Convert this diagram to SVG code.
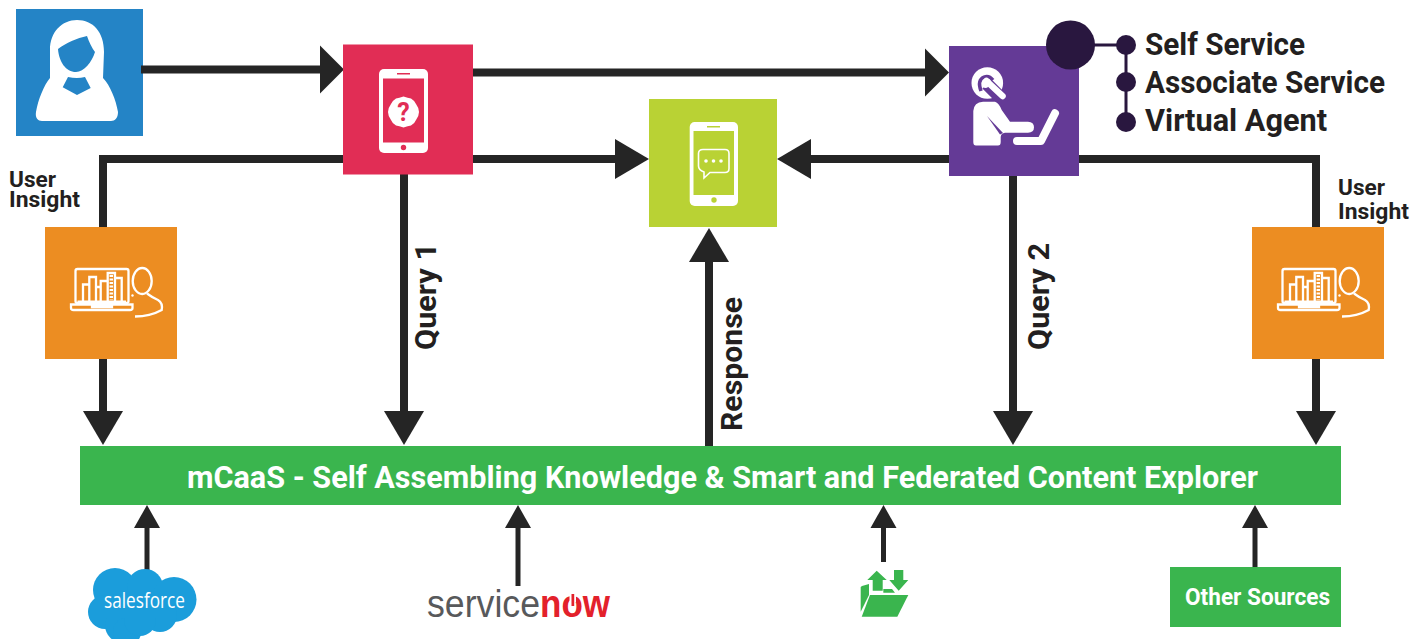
<svg xmlns="http://www.w3.org/2000/svg" xmlns:xlink="http://www.w3.org/1999/xlink" width="1426" height="639" viewBox="0 0 1426 639">
<style>
text{font-family:"Roboto","Liberation Sans",sans-serif;font-weight:700;fill:#231f20}
.w{fill:#fff}
.c{fill:none;stroke:#252525;stroke-width:8}
.s{fill:none;stroke:#252525;stroke-width:5}
.ol{fill:none;stroke:#fff;stroke-width:2.300}
.h{font-size:31px}
.u{font-size:22px}
.r{font-size:29px}
</style>
<defs>
<marker id="a1" markerUnits="userSpaceOnUse" markerWidth="24" markerHeight="48" viewBox="0 0 24 48" refX="0" refY="24" orient="auto" overflow="visible"><path d="M0 0L24 24L0 48Z" fill="#252525"/></marker>
<marker id="a2" markerUnits="userSpaceOnUse" markerWidth="34" markerHeight="40" viewBox="0 0 34 40" refX="0" refY="20" orient="auto" overflow="visible"><path d="M0 0L34 20L0 40Z" fill="#252525"/></marker>
<marker id="a3" markerUnits="userSpaceOnUse" markerWidth="23" markerHeight="26" viewBox="0 0 23 26" refX="0" refY="13" orient="auto" overflow="visible"><path d="M0 0L23 13L0 26Z" fill="#252525"/></marker>
<g id="insight">
<rect class="ol" x="75.500" y="269" width="53" height="34" rx="2"/>
<path class="ol" d="M71 304.500H132.500V308Q132.500 310 130 310H73.500Q71 310 71 308ZM92 304.500V307H112V304.500M77.500 301.700H126"/>
<path class="ol" d="M83 301V284.500H89.300M89.300 301V277H96V301M96 301V287H100.700M100.700 301V281H107.700M107.700 301V273H115V301M115 301V278H121.700V301"/>
<path d="M111.300 275V300" fill="none" stroke="#fff" stroke-width="3.500" stroke-dasharray="2 1.500"/>
<ellipse class="ol" cx="142.200" cy="281" rx="9.500" ry="13"/>
<path class="ol" d="M147 293.500Q153 298 158 300Q163 303 161.700 310Q150 316.500 135 316.500"/>
<circle cx="132.500" cy="295.500" r="1.200" fill="#fff"/>
</g>
</defs>
<g id="user">
<rect x="16" y="9" width="127" height="127" fill="#2484c6"/>
<path class="w" d="M50 78L50 50C50 32 62 20 77 20C93 20 104 32 104 52L103 78C110 85 116 100 118 112C118 118 115 121 111 121L42 121C38 121 35 118 36 112C38 100 44 85 50 78Z"/>
<path d="M58 49C66 43 77 38 87 36C89 42 92 48 95 52C92 62 84 72 76 72C66 72 59 62 58 49Z" fill="#2484c6"/>
<path d="M62.700 87.300L68 77Q77 79 85 77L90.700 88L77 95Z" fill="#2484c6"/>
</g>
<g id="connectors">
<path class="c" d="M141 69.500H320" marker-end="url(#a1)"/>
<path class="c" d="M472 72.500H925" marker-end="url(#a1)"/>
<path class="c" d="M473 159H615" marker-end="url(#a2)"/>
<path class="c" d="M949 159H811" marker-end="url(#a2)"/>
<path class="c" d="M343 159H103V227"/>
<path class="c" d="M1079 159H1316V227"/>
<path class="c" d="M103 359V411" marker-end="url(#a2)"/>
<path class="c" d="M404 174V411" marker-end="url(#a2)"/>
<path class="c" d="M709 446V262" marker-end="url(#a2)"/>
<path class="c" d="M1013 176V411" marker-end="url(#a2)"/>
<path class="c" d="M1316 359V411" marker-end="url(#a2)"/>
<path class="s" d="M147 575V528" marker-end="url(#a3)"/>
<path class="s" d="M518 586V528" marker-end="url(#a3)"/>
<path class="s" d="M883.500 562V528" marker-end="url(#a3)"/>
<path class="s" d="M1255 567V528" marker-end="url(#a3)"/>
<path d="M1070 45H1126V122" fill="none" stroke="#29173f" stroke-width="3"/>
</g>
<g id="question">
<rect x="343" y="44.500" width="130" height="130" fill="#e12d55"/>
<rect class="w" x="379" y="69" width="49" height="84" rx="5"/>
<rect x="383" y="78.500" width="41" height="64" fill="#e12d55"/>
<rect x="397" y="73" width="13" height="1.500" fill="#e12d55"/>
<circle cx="403.500" cy="147.500" r="2.700" fill="#e12d55"/>
<path class="w" d="M403.500 96.500Q408 98 411 98.500Q415 101 416 104Q419 108 419 112Q419 116 416 120Q415 123 411 125.500Q408 126 403.500 127.500Q399 126 396 125.500Q392 123 391 120Q388 116 388 112Q388 108 391 104Q392 101 396 98.500Q399 98 403.500 96.500Z"/>
<text x="403.500" y="121" text-anchor="middle" style="font-size:25px;fill:#e12d55">?</text>
</g>
<g id="chat">
<rect x="649" y="99" width="128" height="128" fill="#b9d234"/>
<rect class="w" x="689.700" y="122" width="48.300" height="84" rx="5"/>
<rect x="693.500" y="131" width="40.500" height="64" fill="#b9d234"/>
<rect x="707" y="126" width="13" height="1.500" fill="#b9d234"/>
<circle cx="714" cy="200" r="2.700" fill="#b9d234"/>
<path d="M703 149.500H725Q729 149.500 729 153.500V168.500Q729 172.500 725 172.500H710L704 178V172Q698.500 170 698.500 166V153.500Q698.500 149.500 703 149.500Z" fill="none" stroke="#fff" stroke-width="1.600"/>
<circle class="w" cx="706" cy="161" r="1.800"/><circle class="w" cx="713.500" cy="161" r="1.800"/><circle class="w" cx="721" cy="161" r="1.800"/>
</g>
<g id="agent">
<rect x="949" y="46" width="130" height="130" fill="#643a96"/>
<circle class="w" cx="987.300" cy="83" r="15.800"/>
<path d="M987 84L1006 103" fill="none" stroke="#643a96" stroke-width="13"/>
<path d="M981 91Q977 80 984 77Q989 75 993 80" fill="none" stroke="#643a96" stroke-width="3.500"/>
<circle class="w" cx="985.500" cy="85" r="3"/>
<path d="M986.500 81L1002.500 96" fill="none" stroke="#fff" stroke-width="6.500" stroke-linecap="round"/>
<path class="w" d="M973.300 111Q974 102 983 101.700H995Q999 103 1001.700 110L1010 121.700H1028Q1034 122 1034 127.200Q1034 132.500 1028 132.700H1005Q1001 133 1000.700 137V142Q1000.700 145.500 998 145.500H976Q973.300 145.500 973.300 142Z"/>
<path d="M987 116L1003 133L1000 134.500Z" fill="#643a96"/>
<path d="M1017 141H1041L1055 113.300" fill="none" stroke="#fff" stroke-width="8" stroke-linecap="round" stroke-linejoin="round"/>
</g>
<g id="channels">
<circle cx="1070.500" cy="45" r="24.500" fill="#29173f"/>
<circle cx="1126" cy="45" r="10" fill="#29173f"/>
<circle cx="1126" cy="82" r="10" fill="#29173f"/>
<circle cx="1126" cy="122" r="10" fill="#29173f"/>
<text class="h" x="1145" y="55" textLength="160" lengthAdjust="spacingAndGlyphs">Self Service</text>
<text class="h" x="1145" y="93" textLength="240" lengthAdjust="spacingAndGlyphs">Associate Service</text>
<text class="h" x="1145" y="131" textLength="182" lengthAdjust="spacingAndGlyphs">Virtual Agent</text>
</g>
<g id="insight-left">
<rect x="45" y="227" width="132" height="132" fill="#ec8d22"/>
<use href="#insight" xlink:href="#insight"/>
<text class="u" x="9" y="187" textLength="47" lengthAdjust="spacingAndGlyphs">User</text>
<text class="u" x="9" y="207" textLength="71" lengthAdjust="spacingAndGlyphs">Insight</text>
</g>
<g id="insight-right">
<rect x="1252" y="227" width="132" height="132" fill="#ec8d22"/>
<use href="#insight" xlink:href="#insight" x="1207"/>
<text class="u" x="1338" y="195" textLength="47" lengthAdjust="spacingAndGlyphs">User</text>
<text class="u" x="1338" y="219" textLength="71" lengthAdjust="spacingAndGlyphs">Insight</text>
</g>
<g id="labels">
<text class="r" transform="translate(436 350) rotate(-90)" textLength="107" lengthAdjust="spacingAndGlyphs">Query 1</text>
<text class="r" transform="translate(1049 350) rotate(-90)" textLength="107" lengthAdjust="spacingAndGlyphs">Query 2</text>
<text class="r" transform="translate(741.500 431) rotate(-90)" textLength="134" lengthAdjust="spacingAndGlyphs">Response</text>
</g>
<g id="mcaas">
<rect x="80" y="446" width="1261" height="59" fill="#3ab54e"/>
<text class="w" x="187" y="488" textLength="1071" lengthAdjust="spacingAndGlyphs" style="font-size:31px;fill:#fff">mCaaS - Self Assembling Knowledge &amp; Smart and Federated Content Explorer</text>
</g>
<g id="salesforce">
<g fill="#1b9ddb">
<circle cx="115" cy="590" r="22"/><circle cx="145" cy="587" r="18"/><circle cx="174" cy="599.500" r="22.500"/><circle cx="105" cy="612" r="17"/><circle cx="123" cy="625" r="18"/><circle cx="127" cy="632" r="14"/><circle cx="160" cy="615" r="17"/><circle cx="140" cy="620" r="16"/><rect x="105" y="590" width="68" height="28"/>
</g>
<text x="104" y="608" textLength="81" lengthAdjust="spacingAndGlyphs" style="font-family:'Open Sans','Liberation Sans',sans-serif;font-weight:400;font-size:21px;fill:#fff">salesforce</text>
</g>
<g id="servicenow">
<text x="427" y="617" textLength="113" lengthAdjust="spacingAndGlyphs" style="font-family:'Liberation Sans',sans-serif;font-weight:400;font-size:39px;fill:#58595b">service</text>
<text x="540" y="617" textLength="70" lengthAdjust="spacingAndGlyphs" style="font-family:'Liberation Sans',sans-serif;font-weight:700;font-size:39px;fill:#e3212b">now</text>
<rect x="569.500" y="593" width="6.500" height="9" fill="#fff"/>
<rect x="571.500" y="594" width="2.700" height="12" fill="#e3212b"/>
</g>
<g id="folder" fill="#3ab54e">
<path d="M876.700 570.700L886.700 580H882.700V590.700H872.700V580H867.300Z"/>
<path d="M894 570H903.300V580H908.300L898.700 590.700L889.300 580H894Z"/>
<path d="M862 586L869 584V595L860.700 611.700V587Z"/>
<path d="M883.300 589H892L895 592.700H883.300Z"/>
<path d="M870 595H908.300L897.300 616.700H861.700Z"/>
</g>
<g id="other-sources">
<rect x="1170" y="567" width="171" height="60" fill="#3ab54e"/>
<text x="1185" y="605" textLength="145" lengthAdjust="spacingAndGlyphs" style="font-size:23px;fill:#fff">Other Sources</text>
</g>
</svg>
